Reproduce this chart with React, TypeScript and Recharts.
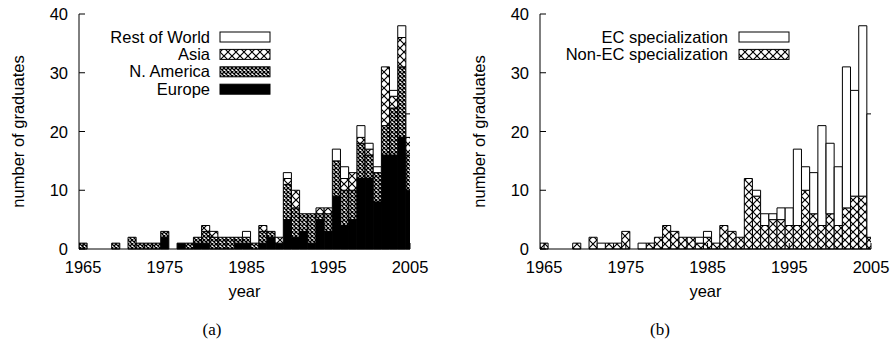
import React from 'react';
import { BarChart, Bar, XAxis, YAxis, Legend } from 'recharts';

const years = [
  1965, 1966, 1967, 1968, 1969, 1970, 1971, 1972, 1973, 1974,
  1975, 1976, 1977, 1978, 1979, 1980, 1981, 1982, 1983, 1984,
  1985, 1986, 1987, 1988, 1989, 1990, 1991, 1992, 1993, 1994,
  1995, 1996, 1997, 1998, 1999, 2000, 2001, 2002, 2003, 2004,
  2005,
];

// (a) graduates by region
const europe = [
  0, 0, 0, 0, 0, 0, 0, 0, 0, 0,
  2, 0, 1, 0, 1, 1, 0, 0, 0, 1,
  1, 0, 1, 2, 1, 5, 2, 3, 1, 5,
  3, 9, 4, 5, 12, 12, 8, 16, 16, 19,
  10,
];
const nAmerica = [
  1, 0, 0, 0, 1, 0, 2, 1, 1, 1,
  1, 0, 0, 1, 1, 2, 2, 2, 2, 1,
  1, 1, 2, 1, 0, 6, 5, 3, 5, 1,
  3, 6, 6, 5, 6, 4, 5, 5, 8, 12,
  6,
];
const asia = [
  0, 0, 0, 0, 0, 0, 0, 0, 0, 0,
  0, 0, 0, 0, 0, 1, 1, 0, 0, 0,
  0, 0, 1, 0, 1, 1, 3, 0, 0, 1,
  1, 0, 2, 3, 1, 1, 0, 10, 2, 5,
  3,
];
const restOfWorld = [
  0, 0, 0, 0, 0, 0, 0, 0, 0, 0,
  0, 0, 0, 0, 0, 0, 0, 0, 0, 0,
  1, 0, 0, 0, 0, 1, 0, 0, 0, 0,
  0, 2, 2, 0, 2, 1, 1, 0, 1, 2,
  4,
];

// (b) graduates by specialization
const nonEcSpec = [
  1, 0, 0, 0, 1, 0, 2, 0, 1, 1,
  3, 0, 0, 1, 2, 4, 3, 2, 2, 1,
  2, 1, 4, 3, 2, 12, 9, 4, 5, 5,
  4, 4, 10, 6, 4, 6, 4, 7, 9, 9,
  2,
];
const ecSpec = [
  0, 0, 0, 0, 0, 0, 0, 1, 0, 0,
  0, 0, 1, 0, 0, 0, 0, 0, 0, 1,
  1, 0, 0, 0, 0, 0, 1, 2, 1, 2,
  3, 13, 4, 7, 17, 12, 10, 24, 18, 29,
  21,
];

const xTicks = [1965, 1975, 1985, 1995, 2005];
const yTicks = [0, 10, 20, 30, 40];

const regionData = years.map((year, i) => ({
  year,
  europe: europe[i],
  nAmerica: nAmerica[i],
  asia: asia[i],
  rest: restOfWorld[i],
}));

const specData = years.map((year, i) => ({
  year,
  nonEc: nonEcSpec[i],
  ec: ecSpec[i],
}));

const FONT = '"Liberation Sans", Arial, Helvetica, sans-serif';
const FS = 16.5;

function BottomTick({ x, y, payload }: any) {
  return (
    <g>
      <line x1={x} y1={y} x2={x} y2={y - 6} stroke="#000" />
      <text x={x} y={y + 24} textAnchor="middle" fontFamily={FONT} fontSize={FS} fill="#000">
        {payload.value}
      </text>
    </g>
  );
}

function TopTick({ x, y }: any) {
  return <line x1={x} y1={y} x2={x} y2={y + 6} stroke="#000" />;
}

function LeftTick({ x, y, payload }: any) {
  return (
    <g>
      <line x1={x} y1={y} x2={x + 6} y2={y} stroke="#000" />
      <text x={x - 11} y={y + 6} textAnchor="end" fontFamily={FONT} fontSize={FS} fill="#000">
        {payload.value}
      </text>
    </g>
  );
}

function RightTick({ x, y }: any) {
  return <line x1={x} y1={y} x2={x - 6} y2={y} stroke="#000" />;
}

function XTitle({ viewBox }: any) {
  const vb = viewBox || { x: 79, y: 249, width: 331, height: 93 };
  return (
    <text x={vb.x + vb.width / 2} y={vb.y + 48} textAnchor="middle" fontFamily={FONT} fontSize={FS} fill="#000">
      year
    </text>
  );
}

function YTitle({ viewBox }: any) {
  const vb = viewBox || { x: 0, y: 14, width: 79, height: 235 };
  const cx = vb.x + 24;
  const cy = vb.y + vb.height / 2;
  return (
    <text
      x={cx}
      y={cy}
      transform={`rotate(-90 ${cx} ${cy})`}
      textAnchor="middle"
      fontFamily={FONT}
      fontSize={FS}
      fill="#000"
    >
      number of graduates
    </text>
  );
}

type Series = { key: string; name: string; fill: string };

function Panel({
  pid,
  data,
  series,
  textRight,
  swatchX,
}: {
  pid: string;
  data: any[];
  series: Series[];
  textRight: number;
  swatchX: number;
}) {
  const legendItems = [...series].reverse();
  return (
    <BarChart width={440} height={342} data={data} margin={{ top: 14, right: 30, bottom: 0, left: 0 }}>
      <defs>
        <pattern id={`${pid}-big`} patternUnits="userSpaceOnUse" width={8} height={8}>
          <rect width={8} height={8} fill="#fff" />
          <path d="M0,0 L8,8 M8,0 L0,8" stroke="#000" strokeWidth={1.2} />
        </pattern>
        <pattern id={`${pid}-dense`} patternUnits="userSpaceOnUse" width={4} height={4}>
          <rect width={4} height={4} fill="#fff" />
          <path d="M0,0 L4,4 M4,0 L0,4" stroke="#000" strokeWidth={1.3} />
        </pattern>
      </defs>
      <XAxis
        dataKey="year"
        type="number"
        domain={[1964.5, 2005]}
        allowDataOverflow
        ticks={xTicks}
        interval={0}
        height={93}
        tickSize={0}
        tickMargin={0}
        tickLine={false}
        axisLine={{ stroke: '#000' }}
        tick={<BottomTick />}
        label={<XTitle />}
      />
      <XAxis
        xAxisId="top"
        orientation="top"
        dataKey="year"
        type="number"
        domain={[1964.5, 2005]}
        allowDataOverflow
        ticks={xTicks}
        interval={0}
        height={0}
        tickSize={0}
        tickMargin={0}
        tickLine={false}
        axisLine={{ stroke: '#000' }}
        tick={<TopTick />}
      />
      <YAxis
        type="number"
        domain={[0, 40]}
        ticks={yTicks}
        interval={0}
        width={79}
        tickSize={0}
        tickMargin={0}
        tickLine={false}
        axisLine={{ stroke: '#000' }}
        tick={<LeftTick />}
        label={<YTitle />}
      />
      <YAxis
        yAxisId="right"
        orientation="right"
        type="number"
        domain={[0, 40]}
        allowDataOverflow
        ticks={yTicks}
        interval={0}
        width={0}
        tickSize={0}
        tickMargin={0}
        tickLine={false}
        axisLine={{ stroke: '#000' }}
        tick={<RightTick />}
      />
      <Legend
        layout="horizontal"
        verticalAlign="middle"
        align="center"
        wrapperStyle={{ left: 0, top: 0, width: 440, height: 110 }}
        content={() => (
          <svg width={440} height={110} style={{ display: 'block' }}>
            {legendItems.map((s, i) => (
              <g key={s.key}>
                <text
                  x={textRight}
                  y={42.5 + i * 17.4}
                  textAnchor="end"
                  fontFamily={FONT}
                  fontSize={FS}
                  fill="#000"
                >
                  {s.name}
                </text>
                <rect x={swatchX} y={32 + i * 17.4} width={50} height={10} fill={s.fill} stroke="#000" />
              </g>
            ))}
          </svg>
        )}
      />
      {series.map((s) => (
        <Bar
          key={s.key}
          dataKey={s.key}
          name={s.name}
          stackId="s"
          fill={s.fill}
          stroke="#000"
          strokeWidth={1}
          barSize={8.1}
          isAnimationActive={false}
        />
      ))}
    </BarChart>
  );
}

export default function App() {
  const regionSeries: Series[] = [
    { key: 'europe', name: 'Europe', fill: '#000' },
    { key: 'nAmerica', name: 'N. America', fill: 'url(#a-dense)' },
    { key: 'asia', name: 'Asia', fill: 'url(#a-big)' },
    { key: 'rest', name: 'Rest of World', fill: '#fff' },
  ];
  const specSeries: Series[] = [
    { key: 'nonEc', name: 'Non-EC specialization', fill: 'url(#b-big)' },
    { key: 'ec', name: 'EC specialization', fill: '#fff' },
  ];
  return (
    <div style={{ position: 'absolute', left: 0, top: 0, width: 891, height: 342, background: '#fff' }}>
      <div style={{ position: 'absolute', left: 0, top: 0 }}>
        <Panel pid="a" data={regionData} series={regionSeries} textRight={210} swatchX={220} />
      </div>
      <div style={{ position: 'absolute', left: 461, top: 0 }}>
        <Panel pid="b" data={specData} series={specSeries} textRight={267} swatchX={278} />
      </div>
      <svg
        width={891}
        height={342}
        style={{ position: 'absolute', left: 0, top: 0, pointerEvents: 'none' }}
      >
        <text x={212} y={335} textAnchor="middle" fontFamily='"Liberation Serif", "Times New Roman", serif' fontSize={17} fill="#000">
          (a)
        </text>
        <text x={660} y={335} textAnchor="middle" fontFamily='"Liberation Serif", "Times New Roman", serif' fontSize={17} fill="#000">
          (b)
        </text>
      </svg>
    </div>
  );
}
